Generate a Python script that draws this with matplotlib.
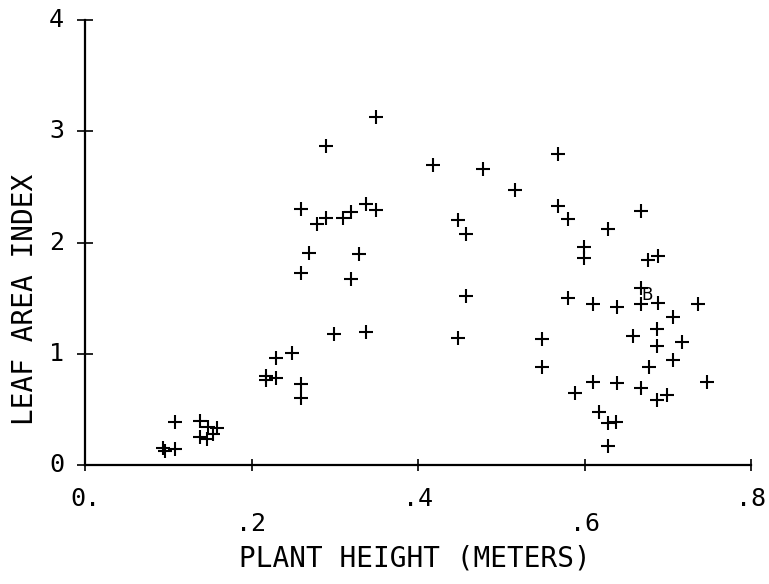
import matplotlib
matplotlib.use("Agg")
import matplotlib.pyplot as plt

# ---- data ----
plant_height = [
    0.094, 0.096, 0.108, 0.108,
    0.138, 0.138, 0.148, 0.158, 0.146, 0.154,
    0.218, 0.218, 0.230, 0.229, 0.249, 0.260, 0.260, 0.299, 0.338,
    0.349, 0.289, 0.259, 0.279, 0.290, 0.310, 0.320, 0.338, 0.350, 0.269, 0.329, 0.259, 0.319,
    0.418, 0.478, 0.517, 0.448, 0.458, 0.458, 0.448,
    0.568, 0.568, 0.580, 0.668, 0.628, 0.599, 0.599, 0.676, 0.688, 0.580,
    0.610, 0.639, 0.668, 0.668, 0.688, 0.736, 0.706, 0.687, 0.658, 0.717,
    0.687, 0.549, 0.549, 0.706, 0.677, 0.610, 0.639, 0.747, 0.668, 0.589,
    0.687, 0.699, 0.618, 0.628, 0.638, 0.628,
]
leaf_area_index = [
    0.15, 0.13, 0.14, 0.39,
    0.40, 0.25, 0.34, 0.33, 0.23, 0.28,
    0.80, 0.76, 0.78, 0.96, 1.01, 0.73, 0.60, 1.18, 1.20,
    3.13, 2.87, 2.30, 2.17, 2.22, 2.22, 2.27, 2.35, 2.29, 1.91, 1.90, 1.73, 1.67,
    2.70, 2.66, 2.47, 2.20, 2.08, 1.52, 1.14,
    2.80, 2.33, 2.21, 2.28, 2.12, 1.96, 1.86, 1.84, 1.88, 1.50,
    1.45, 1.42, 1.59, 1.45, 1.46, 1.45, 1.33, 1.22, 1.16, 1.11,
    1.07, 1.13, 0.88, 0.94, 0.88, 0.75, 0.74, 0.75, 0.69, 0.65,
    0.58, 0.63, 0.48, 0.38, 0.39, 0.17,
]
# overlapping observations plotted as the letter "B"
b_height = [0.675]
b_lai = [1.53]

x_ticks = [0.0, 0.2, 0.4, 0.6, 0.8]
x_tick_labels = ["0.", ".2", ".4", ".6", ".8"]
y_ticks = [0, 1, 2, 3, 4]
y_tick_labels = ["0", "1", "2", "3", "4"]
x_title = "PLANT HEIGHT (METERS)"
y_title = "LEAF AREA INDEX"

FONT = "DejaVu Sans Mono"

fig = plt.figure(figsize=(7.69, 5.84), dpi=100)
ax = fig.add_axes([85 / 769, 1 - 465 / 584, (751 - 85) / 769, (465 - 20) / 584])

ax.plot(plant_height, leaf_area_index, linestyle="none", marker="+",
        markersize=9.5, markeredgewidth=1.5, color="black")
for bx, by in zip(b_height, b_lai):
    ax.text(bx, by, "B", ha="center", va="center", fontsize=12,
            family="DejaVu Sans", color="black")

ax.set_xlim(0, 0.8)
ax.set_ylim(0, 4)
for s in ("top", "right"):
    ax.spines[s].set_visible(False)
for s in ("left", "bottom"):
    ax.spines[s].set_linewidth(1.6)

ax.set_xticks(x_ticks)
ax.set_yticks(y_ticks)
ax.set_xticklabels([])
ax.set_yticklabels([])
ax.tick_params(axis="x", direction="inout", length=9, width=1.2)
ax.tick_params(axis="y", direction="inout", length=12, width=1.2)

# staggered x tick labels
for i, (xv, lbl) in enumerate(zip(x_ticks, x_tick_labels)):
    dy = -22 if i % 2 == 0 else -47
    ax.annotate(lbl, xy=(xv, 0), xycoords=ax.get_xaxis_transform(),
                xytext=(0, dy), textcoords="offset pixels",
                ha="center", va="top", fontsize=18, family=FONT)

for yv, lbl in zip(y_ticks, y_tick_labels):
    ax.annotate(lbl, xy=(0, yv), xycoords=ax.get_yaxis_transform(),
                xytext=(-21, 0), textcoords="offset pixels",
                ha="right", va="center", fontsize=18, family=FONT)

fig.text(415 / 769, 1 - 558 / 584, x_title, ha="center", va="center",
         fontsize=20, family=FONT)
fig.text(25 / 769, 1 - 299 / 584, y_title, ha="center", va="center",
         rotation=90, fontsize=20, family=FONT)

fig.savefig("out.png", dpi=100)
